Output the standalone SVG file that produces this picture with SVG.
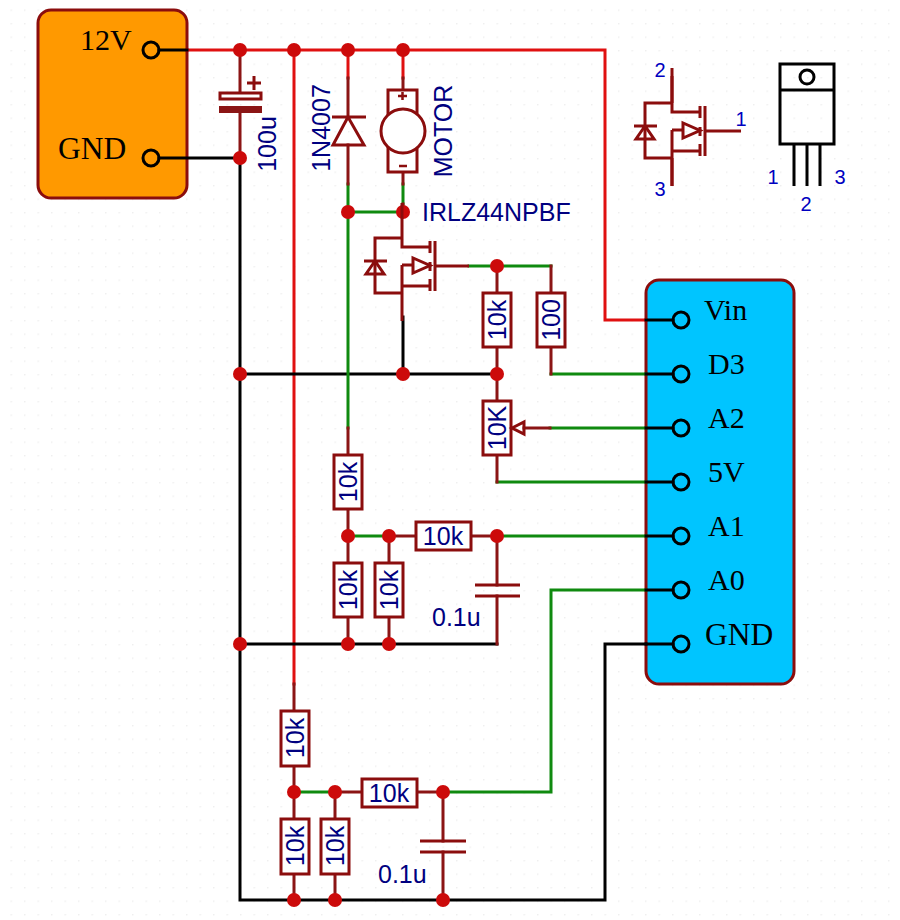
<svg xmlns="http://www.w3.org/2000/svg" width="900" height="920" viewBox="0 0 900 920">
<style>
.w{fill:none;stroke-width:3;stroke-linecap:square;stroke-linejoin:miter}
.red{stroke:#e01010}.grn{stroke:#0f8a0f}.blk{stroke:#000}.brn{stroke:#8b1515}
.s{fill:none;stroke:#8b0d0d;stroke-width:3}
.r{fill:#fff;stroke:#8b0d0d;stroke-width:3}
.j{fill:#cc0a0a}
.box{stroke:#8b0d0d;stroke-width:3}
.pin{fill:none;stroke:#000;stroke-width:3}
.pl{font-family:"Liberation Serif","Times New Roman",serif;font-size:30px;fill:#000}
.g{font-size:31.500px}
.v{font-family:"Liberation Sans",Arial,sans-serif;font-size:25px;fill:#000080}
.m{text-anchor:middle}
.n{font-family:"Liberation Sans",Arial,sans-serif;font-size:20px;fill:#0000c0;text-anchor:middle}
.t{fill:none;stroke:#000;stroke-width:3}
</style>
<defs>
<pattern id="grid" x="10.5" y="9.5" width="13.5" height="13.5" patternUnits="userSpaceOnUse"><circle cx="0.8" cy="0.8" r="0.8" fill="#ececec"/></pattern>
<g id="fet">
<path class="s" d="M0 0V44H28M0 35H-27V90H0M0 62V118M0 83H28M0 62H11"/>
<path class="s" d="M-38 58H-15M-27 58L-36 71H-18Z"/>
<path class="s" d="M11 55V70L28 62.500Z"/>
<path class="s" d="M28 38V50M28 59V68M28 76V88M33 38V88"/>
</g>
</defs>
<rect id="background" width="900" height="920" fill="#fff"/>
<rect id="dots" width="900" height="920" fill="url(#grid)"/>
<g id="arduino-box"><rect class="box" x="646" y="280" width="148" height="404" rx="13" fill="#00c5ff"/></g>
<g id="supply-box"><rect class="box" x="38" y="10" width="149" height="188" rx="13" fill="#ff9900"/></g>
<g id="connectors">
<path class="w red" d="M187 50H605V320H646"/>
<path class="w red" d="M294 50V684M348 50V78M403 50V78"/>
<path class="w blk" d="M159 158H240M240 158V900H605V644H646M240 374H497M403 317V374M240 644H497M159 50H187"/>
<path class="w grn" d="M348 184V428M348 212H403M403 184V204M469 266H551M551 374H646M550 428H646M497 482H646M348 536H389M497 536H646M294 792H335M443 792H551V590H646"/>
<path class="w brn" d="M240 50V93M240 113V158M348 78V117M348 145V184M403 78V90M403 172V184M403 204V212M551 266V293M551 347V374M497 266V293M497 347V401M497 455V482M348 428V455M348 509V563M348 617V644M389 536V563M389 617V644M389 536H416M471 536H497M497 536V585M497 596V644M294 684V711M294 766V819M294 874V900M335 792V819M335 874V900M335 792H362M417 792H443M443 792V841M443 852V900M524 428H550"/>
<path class="w blk" d="M646 320H673M646 374H673M646 428H673M646 482H673M646 536H673M646 590H673M646 644H673"/>
<g class="junctions">
<circle class="j" cx="240" cy="50" r="7"/><circle class="j" cx="294" cy="50" r="7"/><circle class="j" cx="348" cy="50" r="7"/><circle class="j" cx="403" cy="50" r="7"/>
<circle class="j" cx="240" cy="158" r="7"/><circle class="j" cx="348" cy="212" r="7"/><circle class="j" cx="403" cy="212" r="7"/><circle class="j" cx="497" cy="266" r="7"/>
<circle class="j" cx="240" cy="374" r="7"/><circle class="j" cx="403" cy="374" r="7"/><circle class="j" cx="497" cy="374" r="7"/>
<circle class="j" cx="348" cy="536" r="7"/><circle class="j" cx="389" cy="536" r="7"/><circle class="j" cx="497" cy="536" r="7"/>
<circle class="j" cx="240" cy="644" r="7"/><circle class="j" cx="348" cy="644" r="7"/><circle class="j" cx="389" cy="644" r="7"/>
<circle class="j" cx="294" cy="792" r="7"/><circle class="j" cx="335" cy="792" r="7"/><circle class="j" cx="443" cy="792" r="7"/>
<circle class="j" cx="294" cy="900" r="7"/><circle class="j" cx="335" cy="900" r="7"/><circle class="j" cx="443" cy="900" r="7"/>
</g>
</g>
<g id="supply-pins">
<circle class="pin" cx="151" cy="50" r="8"/><circle class="pin" cx="151" cy="158" r="8"/>
<text class="pl" x="80" y="50">12V</text><text class="pl g" x="58" y="159">GND</text>
</g>
<g id="arduino-pins">
<circle class="pin" cx="681" cy="320" r="8"/><circle class="pin" cx="681" cy="374" r="8"/><circle class="pin" cx="681" cy="428" r="8"/><circle class="pin" cx="681" cy="482" r="8"/><circle class="pin" cx="681" cy="536" r="8"/><circle class="pin" cx="681" cy="590" r="8"/><circle class="pin" cx="681" cy="644" r="8"/>
<text class="pl" x="704" y="320">Vin</text><text class="pl" x="708" y="374">D3</text><text class="pl" x="708" y="428">A2</text><text class="pl" x="708" y="482">5V</text><text class="pl" x="708" y="536">A1</text><text class="pl" x="708" y="590">A0</text><text class="pl g" x="705" y="645">GND</text>
</g>
<g id="cap-100u">
<rect class="r" x="220" y="93" width="41" height="6"/><rect x="219" y="106" width="43" height="7" fill="#8b1515"/>
<path class="s" d="M254 76V90M247 83H261"/>
<text class="v m" transform="translate(276 144) rotate(-90)">100u</text>
</g>
<g id="diode-1n4007">
<path class="s" d="M332 117H366M348 117L333 145H364Z"/>
<text class="v m" transform="translate(330 128) rotate(-90)">1N4007</text>
</g>
<g id="motor">
<rect class="r" x="388" y="90" width="29" height="82"/>
<circle class="r" cx="403" cy="131" r="22"/>
<path class="s" d="M398 96H407M402.500 92V100M399 166H407" style="stroke-width:2.500"/>
<text class="v m" transform="translate(452 131) rotate(-90)">MOTOR</text>
</g>
<g id="mosfet-q1">
<use href="#fet" x="402" y="203"/>
<path class="s" d="M435 266H469"/>
<text class="v" x="422" y="221">IRLZ44NPBF</text>
</g>
<g id="r-gate-10k"><rect class="r" x="483" y="293" width="28" height="54"/><text class="v m" transform="translate(506 320) rotate(-90)">10k</text></g>
<g id="r-gate-100"><rect class="r" x="537" y="293" width="28" height="54"/><text class="v m" transform="translate(560 320) rotate(-90)">100</text></g>
<g id="pot-10k"><rect class="r" x="483" y="401" width="28" height="54"/><path class="s" d="M512 428L524 422V434Z"/><text class="v m" transform="translate(506 428) rotate(-90)">10K</text></g>
<g id="r1-10k"><rect class="r" x="334" y="455" width="28" height="54"/><text class="v m" transform="translate(357 482) rotate(-90)">10k</text></g>
<g id="r2-10k"><rect class="r" x="334" y="563" width="28" height="54"/><text class="v m" transform="translate(357 590) rotate(-90)">10k</text></g>
<g id="r3-10k"><rect class="r" x="375" y="563" width="28" height="54"/><text class="v m" transform="translate(398 590) rotate(-90)">10k</text></g>
<g id="r4-10k"><rect class="r" x="416" y="522" width="55" height="28"/><text class="v m" x="443" y="545">10k</text></g>
<g id="cap-1"><path class="s" d="M475 585H520M475 596H520"/><text class="v" x="432" y="626">0.1u</text></g>
<g id="r5-10k"><rect class="r" x="281" y="711" width="28" height="55"/><text class="v m" transform="translate(304 738) rotate(-90)">10k</text></g>
<g id="r6-10k"><rect class="r" x="281" y="819" width="28" height="55"/><text class="v m" transform="translate(304 846) rotate(-90)">10k</text></g>
<g id="r7-10k"><rect class="r" x="321" y="819" width="28" height="55"/><text class="v m" transform="translate(344 846) rotate(-90)">10k</text></g>
<g id="r8-10k"><rect class="r" x="362" y="779" width="55" height="28"/><text class="v m" x="389" y="802">10k</text></g>
<g id="cap-2"><path class="s" d="M420 841H466M420 852H466"/><text class="v" x="378" y="883">0.1u</text></g>
<g id="fet-symbol">
<use href="#fet" x="672" y="68"/>
<path class="s" d="M672 76V103M672 158V186M705 131H741"/>
<text class="n" x="660" y="77">2</text><text class="n" x="741" y="126">1</text><text class="n" x="660" y="196">3</text>
</g>
<g id="to220-package">
<rect class="t" x="780" y="64" width="54" height="80"/>
<path class="t" d="M780 90H834M794 144V186M807 144V186M820 144V186"/>
<circle class="t" cx="807" cy="77" r="7"/>
<text class="n" x="773" y="184">1</text><text class="n" x="840" y="184">3</text><text class="n" x="806" y="211">2</text>
</g>
</svg>
